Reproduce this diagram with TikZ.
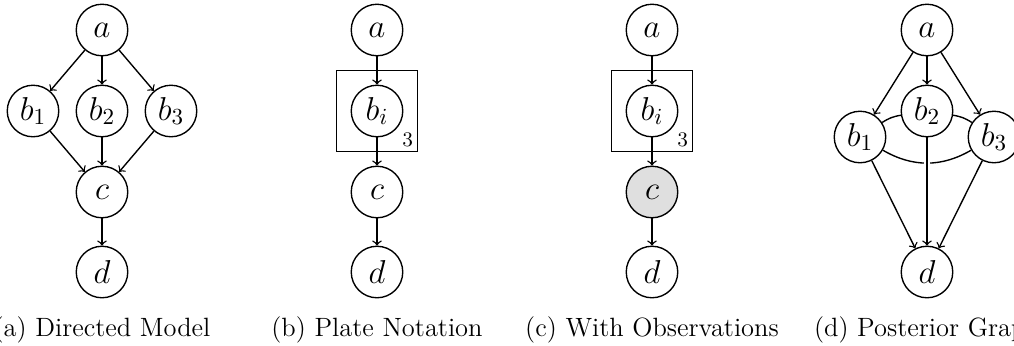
\documentclass[tikz,border=0pt]{standalone}
\usetikzlibrary{fit}
\begin{document}
\begin{tikzpicture}[x=0.4348pt,y=-0.4348pt,line width=0.6pt,
  var/.style={circle,draw,minimum size=22.4pt,inner sep=0pt,font=\fontsize{14.4}{16}\selectfont},
  obs/.style={var,fill=gray!25},
  plate/.style={draw,rectangle,inner sep=6.2pt},
  platelbl/.style={anchor=south east,inner sep=2pt,font=\fontsize{9}{11}\selectfont},
  subcaption/.style={anchor=base,font=\fontsize{11.5}{13}\selectfont},
  edge/.style={->}]
\useasboundingbox (0,0) rectangle (1014,345);
\clip (0,0) rectangle (1014,345);
% (a)
\node[var] (Aa) at (102,30) {$a$};
\node[var] (Ab1) at (33,111) {$b_1$};
\node[var] (Ab2) at (102,111) {$b_2$};
\node[var] (Ab3) at (171,111) {$b_3$};
\node[var] (Ac) at (102,192) {$c$};
\node[var] (Ad) at (102,272) {$d$};
\draw[edge] (Aa) -- (Ab1);
\draw[edge] (Aa) -- (Ab2);
\draw[edge] (Aa) -- (Ab3);
\draw[edge] (Ab1) -- (Ac);
\draw[edge] (Ab2) -- (Ac);
\draw[edge] (Ab3) -- (Ac);
\draw[edge] (Ac) -- (Ad);
\node[subcaption] (capA) at (102,336) {(a) Directed Model};
% (b)
\node[var] (Ba) at (377,30) {$a$};
\node[var] (Bb) at (377,111) {$b_i$};
\node[var] (Bc) at (377,192) {$c$};
\node[var] (Bd) at (377,272) {$d$};
\node[plate,fit=(Bb)] (Bp) {};
\node[platelbl] (Bl) at (Bp.south east) {3};
\draw[edge] (Ba) -- (Bb);
\draw[edge] (Bb) -- (Bc);
\draw[edge] (Bc) -- (Bd);
\node[subcaption] (capB) at (377,336) {(b) Plate Notation};
% (c)
\node[var] (Ca) at (652,30) {$a$};
\node[var] (Cb) at (652,111) {$b_i$};
\node[obs] (Cc) at (652,192) {$c$};
\node[var] (Cd) at (652,272) {$d$};
\node[plate,fit=(Cb)] (Cp) {};
\node[platelbl] (Cl) at (Cp.south east) {3};
\draw[edge] (Ca) -- (Cb);
\draw[edge] (Cb) -- (Cc);
\draw[edge] (Cc) -- (Cd);
\node[subcaption] (capC) at (652,336) {(c) With Observations};
% (d)
\node[var] (Da) at (927,30) {$a$};
\node[var] (Db2) at (927,111) {$b_2$};
\node[var] (Db1) at (860,137) {$b_1$};
\node[var] (Db3) at (994,137) {$b_3$};
\node[var] (Dd) at (927,272) {$d$};
\draw[edge] (Da) -- (Db1);
\draw[edge] (Da) -- (Db2);
\draw[edge] (Da) -- (Db3);
\draw (Db1) to[bend left=12] (Db2);
\draw (Db2) to[bend left=12] (Db3);
\draw (Db1) to[bend right=30] (Db3);
\draw[edge] (Db1) -- (Dd);
\draw[edge] (Db3) -- (Dd);
\draw[edge,preaction={draw=white,line width=2.5pt,-,shorten <=8pt,shorten >=12pt}] (Db2) -- (Dd);
\node[subcaption] (capD) at (927,336) {(d) Posterior Graph};
\end{tikzpicture}
\end{document}
